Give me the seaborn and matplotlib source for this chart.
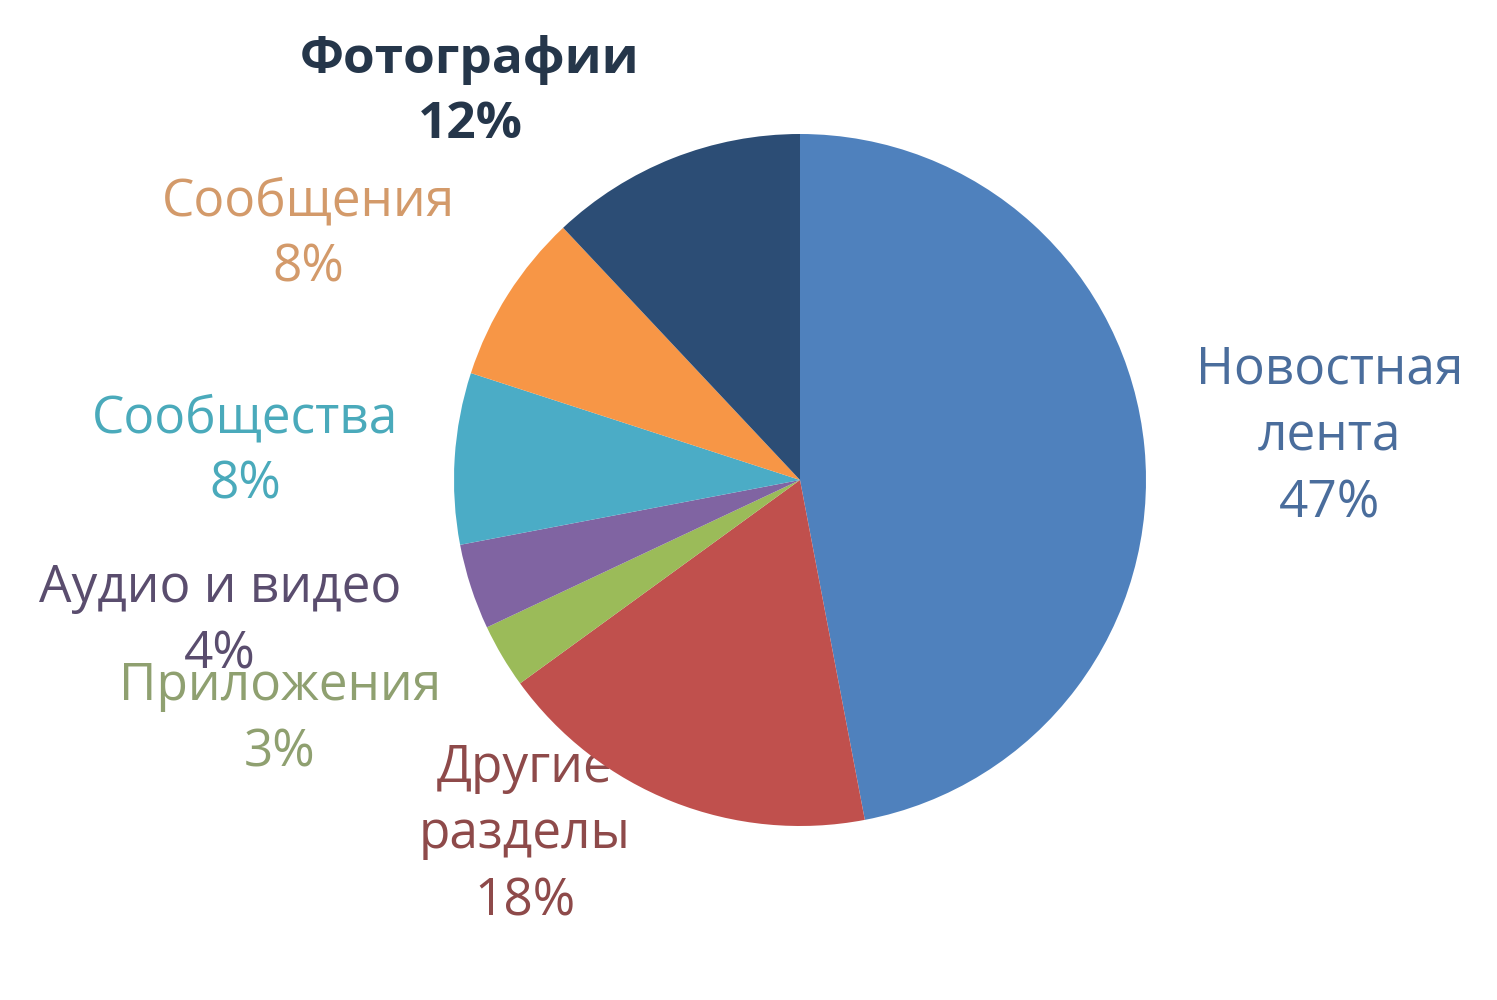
import matplotlib
matplotlib.use("Agg")
import matplotlib.pyplot as plt
import seaborn as sns

sns.set_theme(style="white")
plt.rcParams['font.family'] = ['Open Sans', 'DejaVu Sans']

# Данные
categories = ['Новостная\nлента', 'Другие\nразделы', 'Приложения', 'Аудио и видео',
              'Сообщества', 'Сообщения', 'Фотографии']
shares = [47, 18, 3, 4, 8, 8, 12]
slice_colors = ['#4f81bd', '#c0504d', '#9bbb59', '#8064a2', '#4bacc6', '#f79646', '#2c4d75']
text_colors = ['#4a6d9c', '#8e4a4a', '#8fa070', '#5a4d6e', '#4aaabb', '#d39a6a', '#25364a']

# позиции подписей (в радиусах пирога)
label_pos = [(1.53, 0.124), (-0.795, -1.026), (-1.503, -0.694), (-1.676, -0.41),
             (-1.604, 0.081), (-1.422, 0.708), (-0.954, 1.121)]
label_weight = ['normal'] * 6 + ['bold']

fig = plt.figure(figsize=(14.97, 10), dpi=100)
ax = fig.add_axes([0, 0, 1, 1])

wedges, _ = ax.pie(shares, colors=slice_colors, startangle=90, counterclock=False,
                   radius=1, wedgeprops=dict(linewidth=0))
for wdg in wedges:
    wdg.set_zorder(3)

# подписи лежат под секторами, как в оригинале ("Други|е" прячется под красным)
for cat, val, (x, y), col, w in zip(categories, shares, label_pos, text_colors, label_weight):
    ax.text(x, y, f"{cat}\n{val}%", ha='center', va='center', color=col,
            fontsize=37, fontweight=w, linespacing=1.4, zorder=1)

ax.set_xlim(-800 / 346, 697 / 346)
ax.set_ylim(-520 / 346, 480 / 346)
ax.set_aspect('equal', adjustable='datalim')
ax.axis('off')

fig.savefig('out.png', dpi=100, facecolor='white')
